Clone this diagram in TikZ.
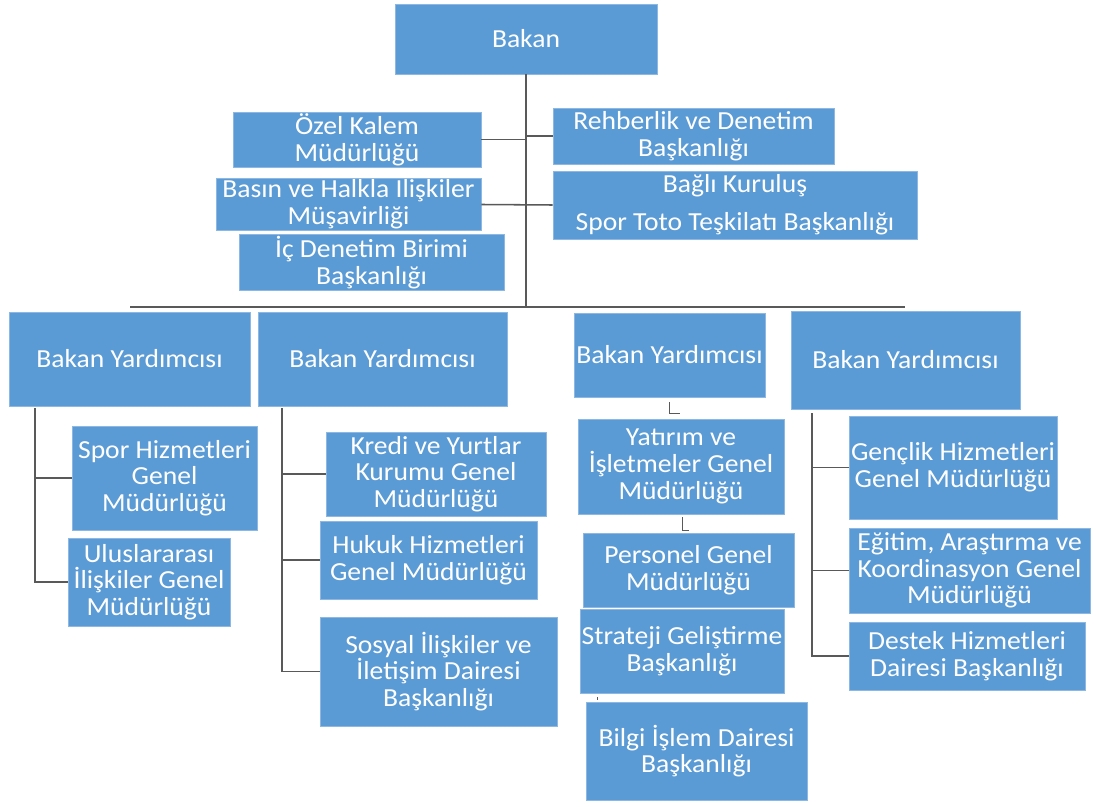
\documentclass[tikz,border=0pt]{standalone}
\usepackage{fontspec}
\setmainfont{Carlito}[FakeStretch=1.06]
\usetikzlibrary{positioning, calc}
\definecolor{boxblue}{HTML}{5B9BD5}
\definecolor{boxedge}{HTML}{8DB8E2}
\definecolor{linkgray}{HTML}{595959}

\begin{document}
\begin{tikzpicture}[
    x=0.025cm, y=-0.025cm,
    unit/.style={rectangle, fill=boxblue, draw=boxedge, line width=0.6pt,
      text=white, align=center, inner sep=1pt,
      font=\fontsize{18.5}{19}\selectfont},
    sz/.style 2 args={minimum width=#1*0.025cm, minimum height=#2*0.025cm},
    link/.style={draw=linkgray, line width=1.1pt},
    stub/.style={draw=linkgray, line width=0.6pt},
  ]

  % Page
  \fill[white] (0,0) rectangle (1096,807);
  \useasboundingbox (0,0) rectangle (1096,807);

  % === Top: Bakan and staff units ===
  \node[unit, sz={262}{70}] (bakan) at (526,39) {Bakan};

  \node[unit, sz={248}{53}] (ozel) at (357,139.5) {Özel Kalem\\Müdürlüğü};
  \node[unit, sz={265}{51}] (basin) at (348.5,204.5) {Basın ve Halkla Ilişkiler\\Müşavirliği};
  \node[unit, sz={265}{53}] (icdenetim) at (371.5,262.5) {İç Denetim Birimi\\Başkanlığı};

  \node[unit, sz={281}{56}] (rehberlik) at (693.5,136) {Rehberlik ve Denetim\\Başkanlığı};
  \node[unit, sz={364}{68}] (bagli) at (735,205) {Bağlı Kuruluş\\[8pt]Spor Toto Teşkilatı Başkanlığı};

  % trunk and bar
  \coordinate (trunkbot) at (526,307);
  \coordinate (barL) at (130,307);
  \coordinate (barR) at (905,307);
  \draw[link] (bakan.south) -- (trunkbot);
  \draw[link] (barL) -- (barR);
  \draw[link] (ozel.east) -- (ozel.east -| trunkbot);
  \draw[link] (rehberlik.west) -- (rehberlik.west -| trunkbot);
  \draw[link] (basin.east) -- (bagli.west);

  % === Bakan Yardimcilari ===
  \node[unit, sz={241}{94}] (by1) at (129.5,359) {Bakan Yardımcısı};
  \node[unit, sz={249}{94}] (by2) at (382.5,359) {Bakan Yardımcısı};
  \node[unit, sz={191}{84}] (by3) at (669.5,355) {Bakan Yardımcısı};
  \node[unit, sz={229}{98}] (by4) at (905.5,360) {Bakan Yardımcısı};

  % === Column 1 ===
  \node[unit, sz={185}{104}] (spor) at (164.5,478) {Spor Hizmetleri\\Genel\\Müdürlüğü};
  \node[unit, sz={162}{88}] (ulus) at (149,582) {Uluslararası\\İlişkiler Genel\\Müdürlüğü};
  \coordinate (v1) at (35,408);
  \draw[link] (v1) |- (ulus.west);
  \draw[link] (spor.west) -- (spor.west -| v1);

  % === Column 2 ===
  \node[unit, sz={220}{84}] (kredi) at (436,474) {Kredi ve Yurtlar\\Kurumu Genel\\Müdürlüğü};
  \node[unit, sz={217}{78}] (hukuk) at (428.5,560) {Hukuk Hizmetleri\\Genel Müdürlüğü};
  \node[unit, sz={237}{109}] (sosyal) at (438.5,671.5) {Sosyal İlişkiler ve\\İletişim Dairesi\\Başkanlığı};
  \coordinate (v2) at (282,408);
  \draw[link] (v2) |- (sosyal.west);
  \draw[link] (kredi.west) -- (kredi.west -| v2);
  \draw[link] (hukuk.west) -- (hukuk.west -| v2);

  % === Column 3 ===
  \node[unit, sz={206}{95}] (yatirim) at (681,466.5) {Yatırım ve\\İşletmeler Genel\\Müdürlüğü};
  \node[unit, sz={211}{74}] (personel) at (688.5,570) {Personel Genel\\Müdürlüğü};
  \node[unit, sz={204}{84}] (strateji) at (682,651) {Strateji Geliştirme\\Başkanlığı};
  \node[unit, sz={221}{98}] (bilgi) at (696.5,751) {Bilgi İşlem Dairesi\\Başkanlığı};
  \draw[stub] (by3.south) ++(0,5) |- ++(10,11);
  \draw[stub] (yatirim.south) ++(1,3) |- ++(7,13);
  \draw[stub] (strateji.south west) ++(18,4) -- ++(0,3);

  % === Column 4 ===
  \node[unit, sz={208}{103}] (genclik) at (953,467.5) {Gençlik Hizmetleri\\Genel Müdürlüğü};
  \node[unit, sz={241}{85}] (egitim) at (969.5,570.5) {Eğitim, Araştırma ve\\Koordinasyon Genel\\Müdürlüğü};
  \node[unit, sz={236}{68}] (destek) at (967,656) {Destek Hizmetleri\\Dairesi Başkanlığı};
  \coordinate (v4) at (812,413);
  \draw[link] (v4) |- (destek.west);
  \draw[link] (genclik.west) -- (genclik.west -| v4);
  \draw[link] (egitim.west) -- (egitim.west -| v4);

\end{tikzpicture}
\end{document}
